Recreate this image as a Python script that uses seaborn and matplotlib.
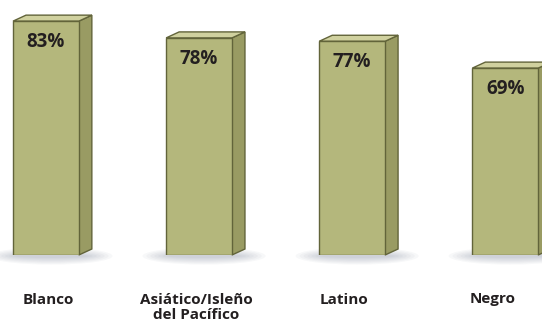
import matplotlib
matplotlib.use("Agg")
import matplotlib.pyplot as plt
from matplotlib.patches import Polygon, Ellipse
import seaborn as sns
import pandas as pd

# Share of each group (percent)
categories = ["Blanco", "Asiático/Isleño\ndel Pacífico", "Latino", "Negro"]
values = [83, 78, 77, 69]

sns.set_theme(style="white")
plt.rcParams["font.family"] = ["Open Sans", "DejaVu Sans"]

FRONT = "#b4b77c"
SIDE = "#999b63"
TOP = "#d0d19f"
EDGE = "#62643a"
TEXT = "#231f20"

W, H = 542, 325
fig = plt.figure(figsize=(W / 100, H / 100), dpi=100)
ax = fig.add_axes([0, 70 / H, 1, 255 / H])

df = pd.DataFrame({"cat": categories, "val": values})
sns.barplot(data=df, x="cat", y="val", color=FRONT, saturation=1,
            width=0.43, ax=ax, edgecolor=EDGE, linewidth=1.0, zorder=3)

base = 13.3
ax.set_xlim(-0.3, 3.24)
ax.set_ylim(base, 89.3)

# data units per pixel
xpp = (3.24 + 0.3) / W
ypp = (89.3 - base) / 255
dx, dy = 13 * xpp, 6 * ypp

for p, v in zip(ax.patches, values):
    p.set_y(base)
    p.set_height(v - base)
    x0 = p.get_x()
    x1 = x0 + p.get_width()
    # soft shadow on the floor
    for k in range(7):
        w = (x1 - x0) * (1.15 + 0.12 * k)
        h = (4 + 2.2 * k) * ypp
        ax.add_patch(Ellipse(((x0 + x1) / 2 + 5 * xpp, base - 1 * ypp), w, h,
                             facecolor="#56627e", edgecolor="none", alpha=0.045,
                             zorder=1, clip_on=False))
    # right side face
    ax.add_patch(Polygon([(x1, base), (x1 + dx, base + dy), (x1 + dx, v + dy), (x1, v)],
                         closed=True, facecolor=SIDE, edgecolor=EDGE,
                         linewidth=1.0, zorder=2.5, clip_on=False))
    # top face
    ax.add_patch(Polygon([(x0, v), (x0 + dx, v + dy), (x1 + dx, v + dy), (x1, v)],
                         closed=True, facecolor=TOP, edgecolor=EDGE,
                         linewidth=1.0, zorder=2.5, clip_on=False))
    ax.text((x0 + x1) / 2, v - 21 * ypp, f"{v}%", ha="center", va="center",
            fontsize=13.5, fontweight="bold", color=TEXT, zorder=5)

# category labels sit slightly tighter than the bars
label_pos = [0.016 + 0.967 * i for i in range(len(categories))]
ax.set_xticks(label_pos)
ax.set_xticklabels(categories, fontsize=11, fontweight="bold", color=TEXT,
                   linespacing=1.1, va="top")
ax.tick_params(axis="x", length=0, pad=27)
ax.set_yticks([])
ax.set_xlabel("")
ax.set_ylabel("")
for s in ax.spines.values():
    s.set_visible(False)

fig.savefig("out.png", dpi=100, facecolor="white")
